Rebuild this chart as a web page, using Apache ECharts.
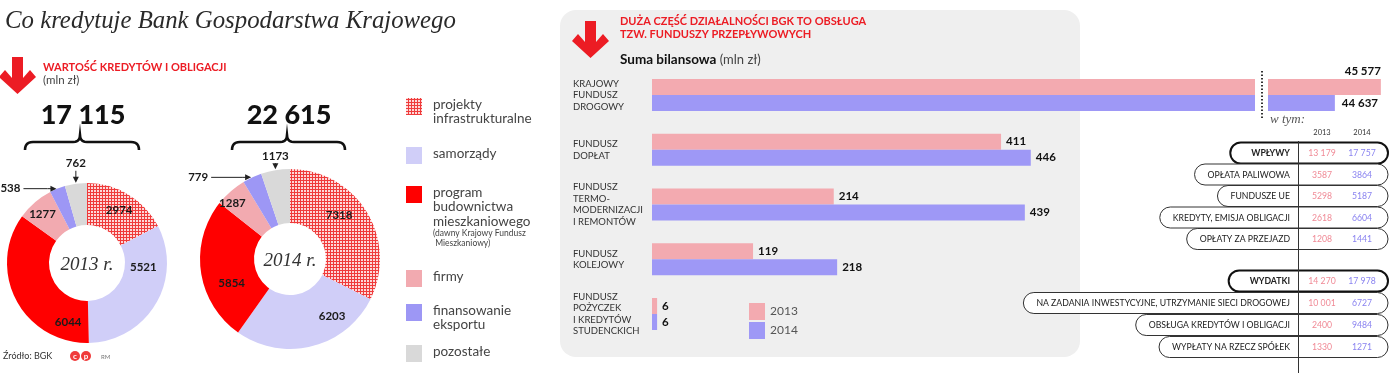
<!DOCTYPE html>
<html><head><meta charset="utf-8">
<script src="https://cdn.jsdelivr.net/npm/echarts@6/dist/echarts.min.js"></script>
<style>html,body{margin:0;padding:0;background:#fff}#c{width:1400px;height:373px}</style>
</head><body><div id="c"></div>
<script>
// ---------- DATA ----------
const segments = ['projekty infrastrukturalne','samorządy','program budownictwa mieszkaniowego','firmy','finansowanie eksportu','pozostałe'];
const legendLines = ['projekty\ninfrastrukturalne','samorządy','program\nbudownictwa\nmieszkaniowego','firmy','finansowanie\neksportu','pozostałe'];
const legendNote = '(dawny Krajowy Fundusz\n Mieszkaniowy)';
const loans2013 = [2974, 5521, 6044, 1277, 538, 762];
const loans2014 = [7318, 6203, 5854, 1287, 779, 1173];
const loanTotals = [17115, 22615];
const years = ['2013', '2014'];
const funds = ['KRAJOWY\nFUNDUSZ\nDROGOWY','FUNDUSZ\nDOPŁAT','FUNDUSZ\nTERMO-\nMODERNIZACJI\nI REMONTÓW','FUNDUSZ\nKOLEJOWY','FUNDUSZ\nPOŻYCZEK\nI KREDYTÓW\nSTUDENCKICH'];
const funds2013 = [45577, 411, 214, 119, 6];
const funds2014 = [44637, 446, 439, 218, 6];
const kfdRows = ['WPŁYWY','OPŁATA PALIWOWA','FUNDUSZE UE','KREDYTY, EMISJA OBLIGACJI','OPŁATY ZA PRZEJAZD','WYDATKI','NA ZADANIA INWESTYCYJNE, UTRZYMANIE SIECI DROGOWEJ','OBSŁUGA KREDYTÓW I OBLIGACJI','WYPŁATY NA RZECZ SPÓŁEK'];
const kfdTotal = [true,false,false,false,false,true,false,false,false];
const kfd2013 = [13179, 3587, 5298, 2618, 1208, 14270, 10001, 2400, 1330];
const kfd2014 = [17757, 3864, 5187, 6604, 1441, 17978, 6727, 9484, 1271];

// ---------- STYLE ----------
const FONT = 'Lato, "Open Sans", sans-serif';
const SERIF = '"Liberation Serif", "DejaVu Serif", serif';
const RED = '#ec1c24';
const segColors = ['#f04848', '#d0cef8', '#ff0000', '#f2aab0', '#9d97f5', '#d9d9d9'];
const col2013 = '#f3aab0', col2014 = '#9e98f6';
const txt2013 = '#f08a96', txt2014 = '#8a83f0';
const pieCenters = [[87, 263], [290, 259]];
const pieRadii = [[38, 80], [36, 90]];

function fmt(n){ const s = String(n); return n >= 10000 ? s.slice(0, -3) + ' ' + s.slice(-3) : s; }
function makePattern(){
  const c = document.createElement('canvas'); c.width = 3; c.height = 3;
  const ctx = c.getContext('2d');
  ctx.fillStyle = '#fdd8d8'; ctx.fillRect(0,0,3,3);
  ctx.fillStyle = '#ef3b3b'; ctx.fillRect(0,0,3,1); ctx.fillRect(0,0,1,3);
  return c;
}
const pattern = { image: makePattern(), repeat: 'repeat' };
const measureCtx = document.createElement('canvas').getContext('2d');
function textW(t, size, bold){ measureCtx.font = (bold ? 'bold ' : '') + size + 'px Lato'; return measureCtx.measureText(t).width; }

let gid = 0;
function T(x, y, text, o){
  o = o || {};
  return { type:'text', id:'g' + (gid++), x, y, z: o.z || 1, style: {
    text, fill: o.color || '#333', fontSize: o.size || 12, fontFamily: o.family || FONT,
    fontWeight: o.weight || 'normal', fontStyle: o.style || 'normal',
    align: o.align || 'left', textAlign: o.align || 'left',
    verticalAlign: o.va || 'middle', textVerticalAlign: o.va || 'middle',
    lineHeight: o.lh, rich: o.rich } };
}
function arrow(ox, oy){
  const p = [[12,0],[23,0],[23,21],[30,13],[36,20],[17.5,37],[-1,20],[5,13],[12,21]];
  return { type:'polygon', id:'g' + (gid++), z:1, shape:{ points: p.map(q => [q[0] + ox, q[1] + oy]) }, style:{ fill: RED } };
}
function quad(a, c, b, n){ const r = []; for (let i = 1; i <= n; i++){ const t = i / n;
  r.push([(1-t)*(1-t)*a[0] + 2*(1-t)*t*c[0] + t*t*b[0], (1-t)*(1-t)*a[1] + 2*(1-t)*t*c[1] + t*t*b[1]]); } return r; }
function brace(x1, x2, xm, yb, yl, yt){
  let pts = [[x1, yb]];
  pts = pts.concat(quad([x1,yb],[x1,yl],[x1+8,yl],6));
  pts.push([xm-7, yl]);
  pts = pts.concat(quad([xm-7,yl],[xm,yl],[xm,yt],5));
  pts = pts.concat(quad([xm,yt],[xm,yl],[xm+7,yl],5));
  pts.push([x2-8, yl]);
  pts = pts.concat(quad([x2-8,yl],[x2,yl],[x2,yb],6));
  return { type:'polyline', id:'g' + (gid++), z:1, shape:{ points: pts }, style:{ stroke:'#111', lineWidth:2.6, fill:null } };
}
// outer-edge mid point of a slice (same geometry as the pie: start at 12 o'clock, clockwise)
function sliceAnchor(vals, idx, s){
  const tot = vals.reduce((a, b) => a + b, 0);
  let cum = 0; for (let i = 0; i < idx; i++) cum += vals[i];
  const th = Math.PI / 2 - (cum + vals[idx] / 2) / tot * 2 * Math.PI;
  const R = pieRadii[s][1];
  return [pieCenters[s][0] + R * Math.cos(th), pieCenters[s][1] - R * Math.sin(th)];
}

// ---------- GRAPHIC ----------
const G = [];
G.push({ type:'rect', id:'panel', z:0, shape:{ x:560, y:10, width:520, height:347, r:16 }, style:{ fill:'#efefef' } });
G.push(T(5, 21, 'Co kredytuje Bank Gospodarstwa Krajowego', { family:SERIF, style:'italic', size:24.8, color:'#2a2a2a' }));
G.push(arrow(0, 57));
G.push(T(43, 67, 'WARTOŚĆ KREDYTÓW I OBLIGACJI', { color:RED, weight:'bold', size:11 }));
G.push(T(43, 80, '(mln zł)', { color:'#444', size:11.5 }));
G.push(T(83, 115, fmt(loanTotals[0]), { align:'center', weight:'900', size:27, color:'#111' }));
G.push(T(289, 115, fmt(loanTotals[1]), { align:'center', weight:'900', size:27, color:'#111' }));
G.push(brace(25, 139, 80, 150, 142, 135));
G.push(brace(232, 345, 287, 150, 142, 135));
G.push(T(pieCenters[0][0], pieCenters[0][1] + 2, years[0] + ' r.', { align:'center', family:SERIF, style:'italic', size:19, color:'#333' }));
G.push(T(pieCenters[1][0], pieCenters[1][1] + 2, years[1] + ' r.', { align:'center', family:SERIF, style:'italic', size:19, color:'#333' }));
// donut legend
const legTop = [98, 147, 186, 270, 304, 345];
legendLines.forEach((t, i) => {
  G.push({ type:'rect', id:'g' + (gid++), z:1, shape:{ x:406, y:legTop[i], width:16, height:17 }, style:{ fill: i === 0 ? pattern : segColors[i] } });
  G.push(T(433, legTop[i] - 1, t, { va:'top', size:13.5, lh:14.5, color:'#444' }));
});
G.push(T(433, legTop[2] + 42, legendNote, { va:'top', size:8.5, lh:10.5, color:'#444' }));
G.push(T(3, 356, 'Źródło: BGK', { size:9, color:'#333' }));
G.push({ type:'circle', id:'g' + (gid++), z:1, shape:{ cx:75, cy:356, r:5 }, style:{ fill:'#f03a3a' } });
G.push({ type:'circle', id:'g' + (gid++), z:1, shape:{ cx:86, cy:356, r:5 }, style:{ fill:'#f03a3a' } });
G.push(T(75, 356, 'c', { align:'center', size:8, weight:'bold', color:'#fff', z:2 }));
G.push(T(86, 356, 'p', { align:'center', size:8, weight:'bold', color:'#fff', z:2 }));
G.push(T(101, 357, 'RM', { size:6, color:'#777' }));
// right panel header
G.push(arrow(573, 21));
G.push(T(620, 28, 'DUŻA CZĘŚĆ DZIAŁALNOŚCI BGK TO OBSŁUGA\nTZW. FUNDUSZY PRZEPŁYWOWYCH', { color:RED, weight:'bold', size:11, lh:12.5 }));
G.push(T(620, 60, '{b|Suma bilansowa} {r|(mln zł)}', { size:13, rich:{ b:{ fontWeight:'bold', fontSize:13.5, fill:'#111', fontFamily:FONT }, r:{ fontSize:13, fill:'#444', fontFamily:FONT } } }));
G.push({ type:'line', id:'g' + (gid++), z:1, shape:{ x1:1262, y1:71, x2:1262, y2:120 }, style:{ stroke:'#333', lineWidth:2, lineDash:[1.5, 2] } });
G.push(T(1270, 120, 'w tym:', { family:SERIF, style:'italic', size:13, color:'#555' }));
// KFD table
G.push(T(1322, 133, years[0], { align:'center', size:7.5, color:'#333' }));
G.push(T(1362, 133, years[1], { align:'center', size:7.5, color:'#333' }));
const rowY = [153, 174.5, 196, 217.5, 239, 281, 303, 325, 347];
kfdRows.forEach((t, i) => {
  const b = kfdTotal[i];
  const w = textW(t, 8.7, b);
  const left = 1290 - w - (b ? 21 : 13);
  G.push({ type:'rect', id:'g' + (gid++), z:1, shape:{ x:left, y:rowY[i] - 10.5, width:1388 - left, height:21, r:10.5 },
    style:{ fill:'#fff', stroke: b ? '#111' : '#333', lineWidth: b ? 2 : 1 } });
  G.push(T(1290, rowY[i] + 0.5, t, { align:'right', size:8.7, weight: b ? 'bold' : 'normal', color:'#222', z:2 }));
  G.push(T(1322, rowY[i] + 0.5, fmt(kfd2013[i]), { align:'center', size:8.7, color:txt2013, z:2 }));
  G.push(T(1362, rowY[i] + 0.5, fmt(kfd2014[i]), { align:'center', size:8.7, color:txt2014, z:2 }));
});
G.push({ type:'line', id:'g' + (gid++), z:3, shape:{ x1:1298.5, y1:141, x2:1298.5, y2:373 }, style:{ stroke:'#333', lineWidth:1 } });
// arrow heads of the small-slice callouts
[loans2013, loans2014].forEach((vals, s) => {
  const a5 = sliceAnchor(vals, 5, s), a4 = sliceAnchor(vals, 4, s);
  G.push({ type:'polygon', id:'g' + (gid++), z:5, shape:{ points:[[a5[0]-3, a5[1]-7], [a5[0]+3, a5[1]-7], [a5[0], a5[1]-1]] }, style:{ fill:'#222' } });
  G.push({ type:'polygon', id:'g' + (gid++), z:5, shape:{ points:[[a4[0]-7, a4[1]-3], [a4[0]-7, a4[1]+3], [a4[0]-1, a4[1]]] }, style:{ fill:'#222' } });
});

// ---------- PIES ----------
const lblRise = [20, 14], lblLeft = [37, 44];
// hand placement of inside labels (designer positions), per series / slice: [dx, dy]
const lblShift = [
  [[0,0],[3,-27],[36,30],[-4,-2],null,null],
  [[-7,-9],[26,-7],[7,15],[-14,-6],null,null]
];
function pieLabelLayout(p){
  const pts = p.labelLinePoints;
  if (p.dataIndex < 4){
    const s = lblShift[p.seriesIndex][p.dataIndex];
    return { dx:s[0], dy:s[1] };
  }
  if (!pts) return {};
  const ax = pts[0][0], ay = pts[0][1];
  if (p.dataIndex === 5){
    const ly = ay - lblRise[p.seriesIndex];
    return { x:ax, y:ly, align:'center', verticalAlign:'middle', labelLinePoints:[[ax, ay - 3], [ax, ay - 6], [ax, ly + 7]] };
  }
  const lx = ax - lblLeft[p.seriesIndex];
  return { x:lx, y:ay, align:'right', verticalAlign:'middle', labelLinePoints:[[ax - 3, ay], [ax - 10, ay], [lx + 3, ay]] };
}
function pieSeries(vals, s){
  return { type:'pie', center:pieCenters[s], radius:pieRadii[s], startAngle:90, clockwise:true, avoidLabelOverlap:false, silent:true,
    emphasis:{ disabled:true }, z:2,
    label:{ show:true, position:'inside', formatter: p => String(p.value), color:'#1a1a1a', fontFamily:FONT, fontWeight:'bold', fontSize:11.5 },
    labelLine:{ show:false },
    labelLayout: pieLabelLayout,
    data: vals.map((v, i) => {
      const d = { name:segments[i], value:v, itemStyle:{ color: i === 0 ? pattern : segColors[i] } };
      if (i >= 4){ d.label = { position:'outside' }; d.labelLine = { show:true, length:4, length2:4, lineStyle:{ color:'#222', width:1 } }; }
      return d;
    }) };
}

// ---------- BARS ----------
const barLabel = { show:true, position:'right', distance:5, color:'#111', fontFamily:FONT, fontWeight:'bold', fontSize:11.5 };
function mainData(vals){ return vals.map((v, i) => i === 0 ? { value:v, label:{ show:false } } : v); }

const option = {
  animation:false,
  backgroundColor:'#fff',
  graphic: G,
  legend:{ data:years, left:749, top:303, orient:'vertical', itemWidth:16, itemHeight:17, itemGap:2, icon:'rect',
    selectedMode:false, padding:0, textStyle:{ fontFamily:FONT, fontSize:12, color:'#555' } },
  grid:[
    { left:652, top:67.6, width:603, height:273.8 },
    { left:1268, top:79, width:113, height:32 }
  ],
  xAxis:[
    { gridIndex:0, type:'value', min:0, max:710, show:false },
    { gridIndex:1, type:'value', min:43270, max:45580, show:false }
  ],
  yAxis:[
    { gridIndex:0, type:'category', data:funds, inverse:true, axisLine:{ show:false }, axisTick:{ show:false }, splitLine:{ show:false },
      axisLabel:{ align:'left', margin:79, fontFamily:FONT, fontSize:9.5, lineHeight:11.5, color:'#333' } },
    { gridIndex:1, type:'category', data:[funds[0]], show:false }
  ],
  series:[
    pieSeries(loans2013, 0),
    pieSeries(loans2014, 1),
    { type:'bar', name:years[0], xAxisIndex:0, yAxisIndex:0, data:mainData(funds2013), barWidth:16, barGap:'0%', silent:true,
      itemStyle:{ color:col2013 }, label:barLabel },
    { type:'bar', name:years[1], xAxisIndex:0, yAxisIndex:0, data:mainData(funds2014), barWidth:16, barGap:'0%', silent:true,
      itemStyle:{ color:col2014 }, label:barLabel },
    { type:'bar', name:years[0], xAxisIndex:1, yAxisIndex:1, data:[funds2013[0]], barWidth:16, barGap:'0%', silent:true,
      itemStyle:{ color:col2013 },
      label:{ show:true, position:['100%', -2], align:'right', verticalAlign:'bottom', color:'#111', fontFamily:FONT, fontWeight:'bold', fontSize:11.5, formatter: p => fmt(p.value) } },
    { type:'bar', name:years[1], xAxisIndex:1, yAxisIndex:1, data:[funds2014[0]], barWidth:16, barGap:'0%', silent:true,
      itemStyle:{ color:col2014 },
      label:{ show:true, position:'right', distance:7, color:'#111', fontFamily:FONT, fontWeight:'bold', fontSize:11.5, formatter: p => fmt(p.value) } }
  ]
};
const chart = echarts.init(document.getElementById('c'), null, { renderer:'canvas', width:1400, height:373 });
chart.setOption(option);
</script></body></html>
